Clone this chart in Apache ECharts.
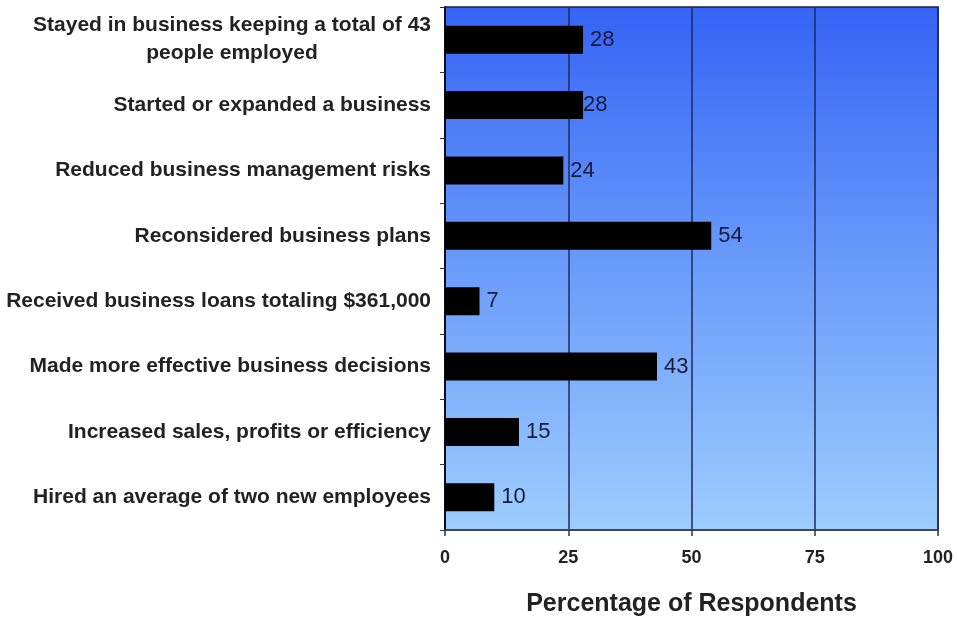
<!DOCTYPE html>
<html>
<head>
<meta charset="utf-8">
<script src="https://cdn.jsdelivr.net/npm/echarts@6/dist/echarts.min.js"></script>
<style>html,body{margin:0;padding:0;background:#fff;}#c{width:958px;height:618px;}</style>
</head>
<body>
<div id="c"></div>
<script>
var categories = [
  "Stayed in business keeping a total of 43\npeople employed",
  "Started or expanded a business",
  "Reduced business management risks",
  "Reconsidered business plans",
  "Received business loans totaling $361,000",
  "Made more effective business decisions",
  "Increased sales, profits or efficiency",
  "Hired an average of two new employees"
];
var values = [28, 28, 24, 54, 7, 43, 15, 10];
var labelGaps = [7, 0, 7, 7, 7, 7, 7, 7];
var xTicks = [0, 25, 50, 75, 100];
var axisTitle = "Percentage of Respondents";

var chart = echarts.init(document.getElementById('c'), null, {renderer: 'canvas'});
var font = '"Liberation Sans", Arial, sans-serif';
chart.setOption({
  animation: false,
  grid: {
    left: 445, right: 20, top: 7, bottom: 88,
    outerBoundsMode: 'none',
    containLabel: false,
    show: true,
    borderColor: '#1a1f3a', borderWidth: 1.5,
    backgroundColor: new echarts.graphic.LinearGradient(0, 0, 0, 1, [
      {offset: 0, color: '#3563f5'},
      {offset: 0.5, color: '#6a9cfa'},
      {offset: 1, color: '#9dcdfd'}
    ])
  },
  xAxis: {
    type: 'value', min: xTicks[0], max: xTicks[xTicks.length - 1], interval: 25,
    name: axisTitle, nameLocation: 'middle', nameGap: 62,
    nameTextStyle: {fontFamily: font, fontWeight: 'bold', fontSize: 25, color: '#222'},
    axisLine: {show: true, lineStyle: {color: '#444', width: 1.5}},
    axisTick: {show: true, length: 6, lineStyle: {color: '#333', width: 1.5}},
    axisLabel: {fontFamily: font, fontWeight: 'bold', fontSize: 18, color: '#222', margin: 19},
    splitLine: {show: true, lineStyle: {color: '#1c2a5e', width: 1.5}}
  },
  yAxis: {
    type: 'category', data: categories, inverse: true,
    axisLine: {show: true, lineStyle: {color: '#000', width: 1.5}},
    axisTick: {show: true, length: 5, lineStyle: {color: '#333'}},
    axisLabel: {
      fontFamily: font, fontWeight: 'bold', fontSize: 21, color: '#222', margin: 14,
      formatter: function (v) {
        return v.split('\n').map(function (s) { return '{c|' + s + '}'; }).join('\n');
      },
      rich: {c: {align: 'center', fontFamily: font, fontWeight: 'bold', fontSize: 21, color: '#222', lineHeight: 28}}
    }
  },
  series: [{
    type: 'bar',
    data: values.map(function (v, i) {
      return {value: v, label: {distance: labelGaps[i]}};
    }),
    barWidth: 28,
    itemStyle: {color: '#000'},
    label: {show: true, position: 'right', fontFamily: font, fontSize: 22, color: '#1a1a3c'}
  }]
});
</script>
</body>
</html>
